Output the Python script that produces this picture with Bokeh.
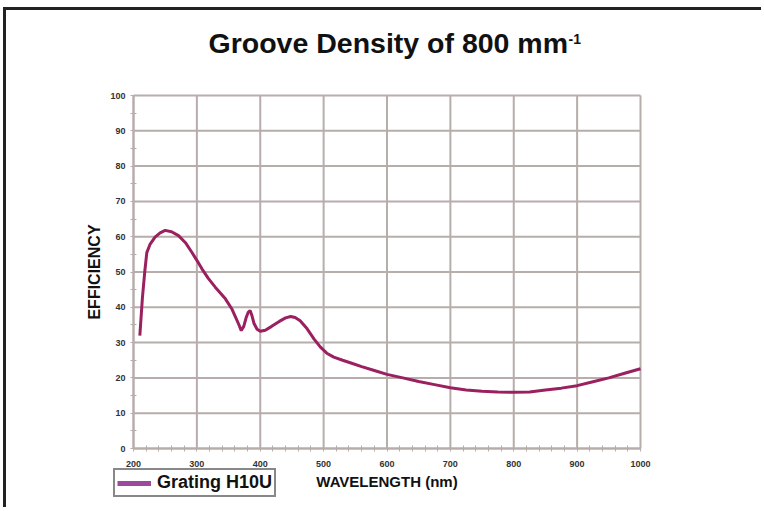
from bokeh.plotting import figure
from bokeh.models import Range1d, Label, Legend, LegendItem, FixedTicker
from bokeh.embed import file_html
from bokeh.resources import INLINE

wavelength = [210, 214, 218, 221, 226, 234, 242, 250, 260, 271, 282, 292, 300, 308, 318,
              329, 345, 355, 361, 366, 370, 374, 378, 381, 384, 387, 390, 395, 400, 408,
              418, 430, 440, 448, 455, 463, 474, 485, 495, 505, 516, 530, 542, 560, 580,
              600, 625, 650, 675, 700, 725, 750, 775, 800, 825, 850, 875, 900, 925, 950,
              975, 1000]
efficiency = [32.0, 42.5, 50.5, 55.5, 57.8, 59.9, 61.1, 61.8, 61.4, 60.3, 58.3, 55.6, 53.3, 50.9, 48.2,
              45.7, 42.4, 39.6, 37.2, 35.2, 33.4, 34.6, 37.2, 38.6, 39.1, 37.6, 35.5, 33.8, 33.2, 33.5,
              34.6, 36.0, 37.0, 37.4, 37.1, 36.2, 33.9, 31.0, 28.7, 27.0, 25.9, 25.0, 24.3, 23.2, 22.1,
              21.0, 20.0, 19.0, 18.1, 17.2, 16.6, 16.2, 16.0, 15.9, 16.0, 16.6, 17.1, 17.8, 18.9, 20.0,
              21.3, 22.6]
x_ticks = [200, 300, 400, 500, 600, 700, 800, 900, 1000]
y_ticks = [0, 10, 20, 30, 40, 50, 60, 70, 80, 90, 100]
title_text = "Groove Density of 800 mm"
title_sup = "-1"
series_name = "Grating H10U"

grid_col = "#b7adab"
curve_col = "#9a2060"
legend_col = "#9b4aa0"
FONT = "Liberation Sans"

# canvas geometry (pixels)
W, H = 758, 500
frame_left, frame_right = 127, 634     # where 200 nm and 1000 nm fall
frame_top, frame_bottom = 85, 438      # where 100 % and 0 % fall
xs = (frame_right - frame_left) / (x_ticks[-1] - x_ticks[0])
ys = (frame_bottom - frame_top) / (y_ticks[-1] - y_ticks[0])
x_range = Range1d(x_ticks[0] - frame_left / xs, x_ticks[0] + (W - frame_left) / xs)
y_range = Range1d(y_ticks[0] - (H - frame_bottom) / ys, y_ticks[0] + frame_bottom / ys)

p = figure(width=W, height=H, output_backend="svg", toolbar_location=None,
           x_range=x_range, y_range=y_range,
           min_border=0, min_border_left=0, min_border_right=0,
           min_border_top=0, min_border_bottom=0)
p.styles = {"margin-left": "3px", "margin-top": "7px",
            "border-top": "3px solid #222222", "border-left": "3px solid #222222"}
p.background_fill_color = "white"
p.border_fill_color = "white"
p.outline_line_color = None
p.grid.visible = False

# grid lines (bounded to the data box)
nx, ny = len(x_ticks), len(y_ticks)
p.segment(x0=x_ticks, y0=[y_ticks[0]] * nx, x1=x_ticks, y1=[y_ticks[-1]] * nx,
          line_color=grid_col, line_width=2)
p.segment(x0=[x_ticks[0]] * ny, y0=y_ticks, x1=[x_ticks[-1]] * ny, y1=y_ticks,
          line_color=grid_col, line_width=2)

p.xaxis.fixed_location = y_ticks[0]
p.yaxis.fixed_location = x_ticks[0]
p.xaxis.bounds = (x_ticks[0], x_ticks[-1])
p.yaxis.bounds = (y_ticks[0], y_ticks[-1])

for ax in (p.xaxis[0], p.yaxis[0]):
    ax.axis_line_color = grid_col
    ax.axis_line_width = 2
    ax.major_tick_line_color = grid_col
    ax.minor_tick_line_color = grid_col
    ax.major_tick_in = 3
    ax.major_tick_out = 0
    ax.minor_tick_in = 3
    ax.minor_tick_out = 3
    ax.major_label_text_font = FONT
    ax.major_label_text_font_style = "bold"
    ax.major_label_text_font_size = "9px"
    ax.major_label_text_color = "#333333"
    ax.axis_label_text_font = FONT
    ax.axis_label_text_font_style = "bold"
    ax.axis_label_text_color = "#111111"

p.xaxis.ticker = FixedTicker(ticks=x_ticks, minor_ticks=list(range(200, 1001, 20)))
p.yaxis.ticker = FixedTicker(ticks=y_ticks, minor_ticks=list(range(0, 101, 5)))
p.xaxis.major_label_standoff = 9
p.yaxis.major_label_standoff = 5
p.xaxis.axis_label = "WAVELENGTH (nm)"
p.xaxis.axis_label_text_font_size = "15px"
p.xaxis.axis_label_standoff = 3
p.yaxis.axis_label = "EFFICIENCY"
p.yaxis.axis_label_text_font_size = "16px"
p.yaxis.axis_label_standoff = 4

p.line(wavelength, efficiency, line_color=curve_col, line_width=3)
# legend swatch renderer: a one-point line draws nothing on the chart itself
swatch = p.line(x=wavelength[:1], y=efficiency[:1], line_color=legend_col, line_width=5)

legend = Legend(items=[LegendItem(label=series_name, renderers=[swatch])],
                location=(107, 13), orientation="horizontal",
                label_text_font=FONT, label_text_font_style="bold",
                label_text_font_size="18px", label_text_color="#111111",
                glyph_width=34, glyph_height=10, label_standoff=6,
                padding=2, margin=0, spacing=0,
                border_line_color="#111111", border_line_width=2,
                background_fill_color="white", background_fill_alpha=1)
p.add_layout(legend, "center")

p.add_layout(Label(x=202, y=H - 32.5, x_units="screen", y_units="screen", text=title_text,
                   text_font=FONT, text_font_style="bold", text_font_size="28.5px",
                   text_color="#111111", text_align="left", text_baseline="alphabetic"))
p.add_layout(Label(x=562, y=H - 28, x_units="screen", y_units="screen", text=title_sup,
                   text_font=FONT, text_font_style="bold", text_font_size="14px",
                   text_color="#111111", text_align="left", text_baseline="alphabetic"))

open("out.html", "w").write(file_html(p, INLINE))
